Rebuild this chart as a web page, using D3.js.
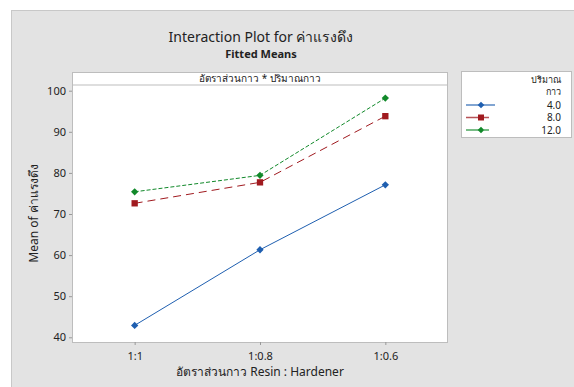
<!DOCTYPE html>
<html>
<head>
  <meta charset="utf-8">
  <style>
    body { margin: 0; background: #fff; }
    svg text { font-family: "Noto Sans", "DejaVu Sans", sans-serif; fill: #222; }
    svg .tick text { font-size: 11px; }
    svg .tick line { stroke: #999; }
    svg .domain { stroke: #bdbdbd; }
  </style>
</head>
<body>
<script src="https://cdn.jsdelivr.net/npm/d3@7/dist/d3.min.js"></script>
<script>
  // data
  var categories = ["1:1", "1:0.8", "1:0.6"];
  var groups = ["4.0", "8.0", "12.0"];
  var mean4  = [42.9, 61.3, 77.1];
  var mean8  = [72.6, 77.7, 93.8];
  var mean12 = [75.4, 79.4, 98.2];
  var yTicks = [40, 50, 60, 70, 80, 90, 100];

  var W = 574, H = 387;
  // plot box edges (window.top is reserved, so prefixed names)
  var pLeft = 72, pRight = 448, pTop = 85, pBottom = 342;

  var svg = d3.select("body").append("svg")
      .attr("width", W)
      .attr("height", H);

  // grey panel
  svg.append("rect")
      .attr("x", 11.5).attr("y", 10.5)
      .attr("width", W).attr("height", H)
      .style("fill", "#e3e3e3")
      .style("stroke", "#c8c8c8");

  // plot area
  svg.append("rect")
      .attr("x", pLeft).attr("y", pTop)
      .attr("width", pRight - pLeft).attr("height", pBottom - pTop)
      .style("fill", "#fff");

  // header strip
  svg.append("rect")
      .attr("x", pLeft + 0.5).attr("y", 72.5)
      .attr("width", pRight - pLeft - 1).attr("height", pTop - 72.5)
      .style("fill", "#fff")
      .style("stroke", "#bdbdbd");

  svg.append("text")
      .attr("x", (pLeft + pRight) / 2).attr("y", 82)
      .style("text-anchor", "middle")
      .style("font-size", "10px")
      .text("อัตราส่วนกาว * ปริมาณกาว");

  // scales
  var xScale = d3.scalePoint().domain(categories).range([pLeft, pRight]).padding(0.5);
  var yScale = d3.scaleLinear().domain([40, 100]).range([337.3, 90.7]);

  var xAxis = d3.axisBottom(xScale).tickSize(3).tickSizeOuter(0);
  var yAxis = d3.axisLeft(yScale).tickValues(yTicks).tickSize(3).tickSizeOuter(0);

  svg.append("g")
      .attr("transform", "translate(0," + pBottom + ")")
      .call(xAxis)
      .call(function (g) { g.select(".domain").attr("d", "M" + pLeft + ",0.5H" + pRight); })
      .selectAll("text").attr("dy", "1.05em");

  svg.append("g")
      .attr("transform", "translate(" + pLeft + ",0)")
      .call(yAxis)
      .call(function (g) { g.select(".domain").attr("d", "M0.5," + pTop + "V" + pBottom); });

  // right border of plot
  svg.append("line")
      .attr("x1", pRight - 0.5).attr("x2", pRight - 0.5)
      .attr("y1", pTop).attr("y2", pBottom)
      .style("stroke", "#bdbdbd");

  // series
  var series = [
    { name: groups[0], values: mean4,  color: "#1f5fb0", dash: null,  shape: d3.symbolDiamond2 },
    { name: groups[1], values: mean8,  color: "#a01a1f", dash: "8,5", shape: d3.symbolSquare },
    { name: groups[2], values: mean12, color: "#11892a", dash: "4,2", shape: d3.symbolDiamond2 }
  ];

  var line = d3.line()
      .x(function (d, i) { return xScale(categories[i]); })
      .y(function (d) { return yScale(d); });

  series.forEach(function (s) {
    svg.append("path")
        .attr("d", line(s.values))
        .style("fill", "none")
        .style("stroke", s.color)
        .style("stroke-width", "1px")
        .style("stroke-dasharray", s.dash);

    svg.selectAll(null)
      .data(s.values)
      .enter().append("path")
        .attr("d", d3.symbol().type(s.shape).size(s.shape === d3.symbolSquare ? 40 : 34))
        .attr("transform", function (d, i) {
          return "translate(" + xScale(categories[i]) + "," + yScale(d) + ")";
        })
        .style("fill", s.color);
  });

  // titles
  svg.append("text")
      .attr("x", 261).attr("y", 42)
      .style("text-anchor", "middle")
      .style("font-size", "14px")
      .text("Interaction Plot for ค่าแรงดึง");

  svg.append("text")
      .attr("x", 261).attr("y", 58)
      .style("text-anchor", "middle")
      .style("font-size", "11px")
      .style("font-weight", "bold")
      .text("Fitted Means");

  svg.append("text")
      .attr("transform", "translate(38," + ((pTop + pBottom) / 2) + ") rotate(-90)")
      .style("text-anchor", "middle")
      .style("font-size", "12px")
      .text("Mean of ค่าแรงดึง");

  svg.append("text")
      .attr("x", (pLeft + pRight) / 2).attr("y", 376)
      .style("text-anchor", "middle")
      .style("font-size", "12px")
      .text("อัตราส่วนกาว Resin : Hardener");

  // legend
  var legend = svg.append("g");
  legend.append("rect")
      .attr("x", 461.5).attr("y", 71.5)
      .attr("width", 110).attr("height", 66)
      .style("fill", "#fff")
      .style("stroke", "#bdbdbd");

  legend.append("text")
      .attr("x", 561).attr("y", 83)
      .style("text-anchor", "end")
      .style("font-size", "9px")
      .text("ปริมาณ");
  legend.append("text")
      .attr("x", 561).attr("y", 95)
      .style("text-anchor", "end")
      .style("font-size", "9px")
      .text("กาว");

  series.forEach(function (s, i) {
    var y = 105 + i * 12.5;
    legend.append("line")
        .attr("x1", 466).attr("x2", 495)
        .attr("y1", y).attr("y2", y)
        .style("stroke", s.color)
        .style("stroke-dasharray", s.dash ? "15,3,5" : null)
        .style("stroke-width", "1.5px")
        .style("opacity", 0.75);
    legend.append("path")
        .attr("d", d3.symbol().type(s.shape).size(s.shape === d3.symbolSquare ? 36 : 28))
        .attr("transform", "translate(481," + y + ")")
        .style("fill", s.color);
    legend.append("text")
        .attr("x", 561).attr("y", y + 3.5)
        .style("text-anchor", "end")
        .style("font-size", "10px")
        .text(s.name);
  });
</script>
</body>
</html>
